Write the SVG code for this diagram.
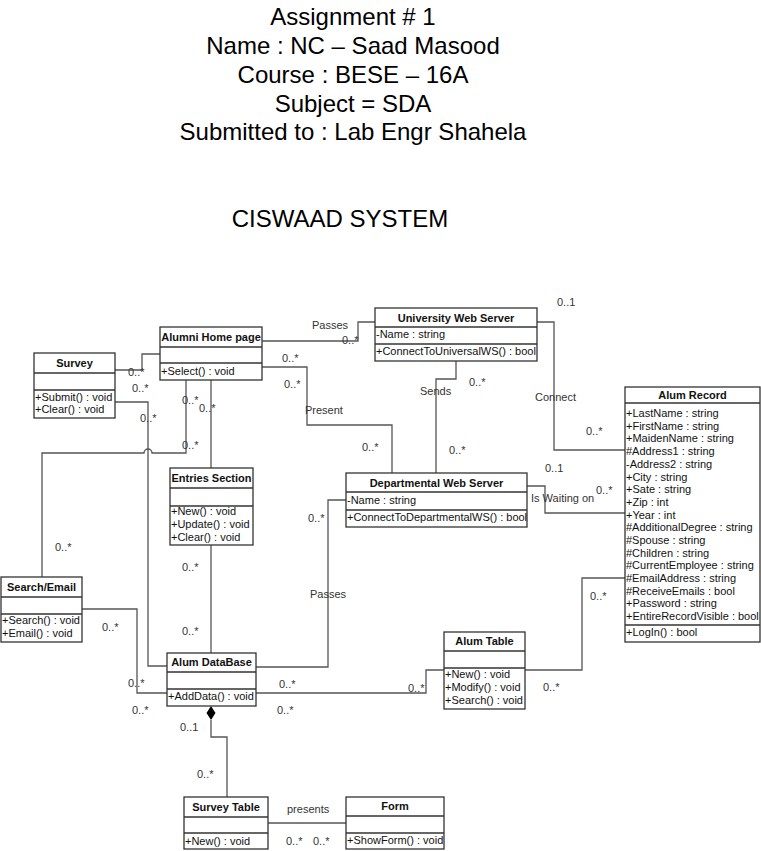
<svg xmlns="http://www.w3.org/2000/svg" width="761" height="851" viewBox="0 0 761 851">
<style>
.box{fill:#fff;stroke:#333;stroke-width:1.3}
.sep{stroke:#333;stroke-width:1.3}
.hd{font:bold 11px "Liberation Sans",Arial,sans-serif;text-anchor:middle;fill:#111}
.tx{font:11px "Liberation Sans",Arial,sans-serif;fill:#111}
.lb{font:11px "Liberation Sans",Arial,sans-serif;fill:#333}
.cn{fill:none;stroke:#555;stroke-width:1.3}
.ti{font:24px "Liberation Sans",Arial,sans-serif;text-anchor:middle;fill:#000}
</style>
<rect width="761" height="851" fill="#fff"/>
<g id="title">
<text class="ti" x="353" y="25">Assignment # 1</text>
<text class="ti" x="353" y="54">Name : NC – Saad Masood</text>
<text class="ti" x="353" y="83">Course : BESE – 16A</text>
<text class="ti" x="353" y="112">Subject = SDA</text>
<text class="ti" x="353" y="140">Submitted to : Lab Engr Shahela</text>
<text class="ti" x="340" y="227">CISWAAD SYSTEM</text>
</g>
<g id="connectors">
<path class="cn" d="M115,370 H142 V354 H160"/>
<path class="cn" d="M115,402 H148 V666 H167"/>
<path class="cn" d="M186,380 V453 H152 A4,4 0 0 0 144,453 H42 V577"/>
<path class="cn" d="M211,380 V468"/>
<path class="cn" d="M211,545 V653"/>
<path class="cn" d="M82,609 H137 V693 H167"/>
<path class="cn" d="M262,341 H358 V322 H375"/>
<path class="cn" d="M262,367 H307 V425 H392 V473"/>
<path class="cn" d="M456,361 V379 H436 V473"/>
<path class="cn" d="M537,322 H554 V450 H625"/>
<path class="cn" d="M527,486 H545 V513 H625"/>
<path class="cn" d="M346,500 H328 V667 H256"/>
<path class="cn" d="M256,693 H426 V670 H444"/>
<path class="cn" d="M525,670 H582 V578 H625"/>
<path class="cn" d="M211,720 V737 H227 V797"/>
<polygon points="211,706 215.5,713 211,720 206.5,713" fill="#000"/>
<path class="cn" d="M268,823 H346"/>
</g>
<g id="labels">
<text class="lb" x="128" y="376">0..*</text>
<text class="lb" x="132" y="392">0..*</text>
<text class="lb" x="140" y="422">0..*</text>
<text class="lb" x="182" y="404">0..*</text>
<text class="lb" x="199" y="412">0..*</text>
<text class="lb" x="182" y="449">0..*</text>
<text class="lb" x="55" y="551">0..*</text>
<text class="lb" x="182" y="571">0..*</text>
<text class="lb" x="182" y="635">0..*</text>
<text class="lb" x="102" y="631">0..*</text>
<text class="lb" x="128" y="687">0..*</text>
<text class="lb" x="132" y="714">0..*</text>
<text class="lb" x="180" y="731">0..1</text>
<text class="lb" x="197" y="778">0..*</text>
<text class="lb" x="287" y="813">presents</text>
<text class="lb" x="286" y="845">0..*</text>
<text class="lb" x="313" y="845">0..*</text>
<text class="lb" x="279" y="688">0..*</text>
<text class="lb" x="277" y="714">0..*</text>
<text class="lb" x="408" y="692">0..*</text>
<text class="lb" x="543" y="691">0..*</text>
<text class="lb" x="590" y="600">0..*</text>
<text class="lb" x="308" y="522">0..*</text>
<text class="lb" x="310" y="598">Passes</text>
<text class="lb" x="312" y="329">Passes</text>
<text class="lb" x="342" y="344">0..*</text>
<text class="lb" x="282" y="362">0..*</text>
<text class="lb" x="284" y="388">0..*</text>
<text class="lb" x="305" y="414">Present</text>
<text class="lb" x="362" y="451">0..*</text>
<text class="lb" x="449" y="454">0..*</text>
<text class="lb" x="420" y="395">Sends</text>
<text class="lb" x="469" y="386">0..*</text>
<text class="lb" x="557" y="306">0..1</text>
<text class="lb" x="535" y="401">Connect</text>
<text class="lb" x="586" y="435">0..*</text>
<text class="lb" x="545" y="472">0..1</text>
<text class="lb" x="531" y="502">Is Waiting on</text>
<text class="lb" x="596" y="494">0..*</text>
</g>
<g id="survey">
<rect class="box" x="34" y="353" width="81" height="65"/>
<line class="sep" x1="34" y1="373" x2="115" y2="373"/>
<line class="sep" x1="34" y1="390" x2="115" y2="390"/>
<text class="hd" x="74.5" y="367">Survey</text>
<text class="tx" x="35" y="401">+Submit() : void</text>
<text class="tx" x="35" y="413">+Clear() : void</text>
</g>
<g id="alumni-home-page">
<rect class="box" x="160" y="327" width="102" height="53"/>
<line class="sep" x1="160" y1="347" x2="262" y2="347"/>
<line class="sep" x1="160" y1="363" x2="262" y2="363"/>
<text class="hd" x="211" y="341">Alumni Home page</text>
<text class="tx" x="161" y="375">+Select() : void</text>
</g>
<g id="university-web-server">
<rect class="box" x="375" y="308" width="162" height="53"/>
<line class="sep" x1="375" y1="327" x2="537" y2="327"/>
<line class="sep" x1="375" y1="344" x2="537" y2="344"/>
<text class="hd" x="456" y="322">University Web Server</text>
<text class="tx" x="376" y="338">-Name : string</text>
<text class="tx" x="376" y="355">+ConnectToUniversalWS() : bool</text>
</g>
<g id="alum-record">
<rect class="box" x="625" y="387" width="135" height="255"/>
<line class="sep" x1="625" y1="403" x2="760" y2="403"/>
<line class="sep" x1="625" y1="625" x2="760" y2="625"/>
<text class="hd" x="692.5" y="399">Alum Record</text>
<text class="tx" x="626" y="417">+LastName : string</text>
<text class="tx" x="626" y="429.7">+FirstName : string</text>
<text class="tx" x="626" y="442.4">+MaidenName : string</text>
<text class="tx" x="626" y="455.1">#Address1 : string</text>
<text class="tx" x="626" y="467.8">-Address2 : string</text>
<text class="tx" x="626" y="480.5">+City : string</text>
<text class="tx" x="626" y="493.1">+Sate : string</text>
<text class="tx" x="626" y="505.8">+Zip : int</text>
<text class="tx" x="626" y="518.5">+Year : int</text>
<text class="tx" x="626" y="531.2">#AdditionalDegree : string</text>
<text class="tx" x="626" y="543.9">#Spouse : string</text>
<text class="tx" x="626" y="556.6">#Children : string</text>
<text class="tx" x="626" y="569.3">#CurrentEmployee : string</text>
<text class="tx" x="626" y="582">#EmailAddress : string</text>
<text class="tx" x="626" y="594.7">#ReceiveEmails : bool</text>
<text class="tx" x="626" y="607.4">+Password : string</text>
<text class="tx" x="626" y="620">+EntireRecordVisible : bool</text>
<text class="tx" x="626" y="636">+LogIn() : bool</text>
</g>
<g id="entries-section">
<rect class="box" x="170" y="468" width="83" height="77"/>
<line class="sep" x1="170" y1="488" x2="253" y2="488"/>
<line class="sep" x1="170" y1="506" x2="253" y2="506"/>
<text class="hd" x="211.5" y="482">Entries Section</text>
<text class="tx" x="171" y="515">+New() : void</text>
<text class="tx" x="171" y="528">+Update() : void</text>
<text class="tx" x="171" y="541">+Clear() : void</text>
</g>
<g id="search-email">
<rect class="box" x="1" y="577" width="81" height="65"/>
<line class="sep" x1="1" y1="597" x2="82" y2="597"/>
<line class="sep" x1="1" y1="614" x2="82" y2="614"/>
<text class="hd" x="41.5" y="591">Search/Email</text>
<text class="tx" x="2" y="624">+Search() : void</text>
<text class="tx" x="2" y="637">+Email() : void</text>
</g>
<g id="departmental-web-server">
<rect class="box" x="346" y="473" width="181" height="54"/>
<line class="sep" x1="346" y1="492" x2="527" y2="492"/>
<line class="sep" x1="346" y1="510" x2="527" y2="510"/>
<text class="hd" x="436.5" y="487">Departmental Web Server</text>
<text class="tx" x="347" y="504">-Name : string</text>
<text class="tx" x="347" y="521">+ConnectToDepartmentalWS() : bool</text>
</g>
<g id="alum-table">
<rect class="box" x="444" y="632" width="81" height="77"/>
<line class="sep" x1="444" y1="651" x2="525" y2="651"/>
<line class="sep" x1="444" y1="668" x2="525" y2="668"/>
<text class="hd" x="484.5" y="645">Alum Table</text>
<text class="tx" x="445" y="678">+New() : void</text>
<text class="tx" x="445" y="691">+Modify() : void</text>
<text class="tx" x="445" y="704">+Search() : void</text>
</g>
<g id="alum-database">
<rect class="box" x="167" y="653" width="89" height="53"/>
<line class="sep" x1="167" y1="672" x2="256" y2="672"/>
<line class="sep" x1="167" y1="689" x2="256" y2="689"/>
<text class="hd" x="211.5" y="666">Alum DataBase</text>
<text class="tx" x="168" y="700">+AddData() : void</text>
</g>
<g id="survey-table">
<rect class="box" x="184" y="797" width="84" height="52"/>
<line class="sep" x1="184" y1="817" x2="268" y2="817"/>
<line class="sep" x1="184" y1="833" x2="268" y2="833"/>
<text class="hd" x="226" y="811">Survey Table</text>
<text class="tx" x="185" y="845">+New() : void</text>
</g>
<g id="form">
<rect class="box" x="346" y="797" width="98" height="52"/>
<line class="sep" x1="346" y1="816" x2="444" y2="816"/>
<line class="sep" x1="346" y1="833" x2="444" y2="833"/>
<text class="hd" x="395" y="810">Form</text>
<text class="tx" x="347" y="844">+ShowForm() : void</text>
</g>
</svg>
